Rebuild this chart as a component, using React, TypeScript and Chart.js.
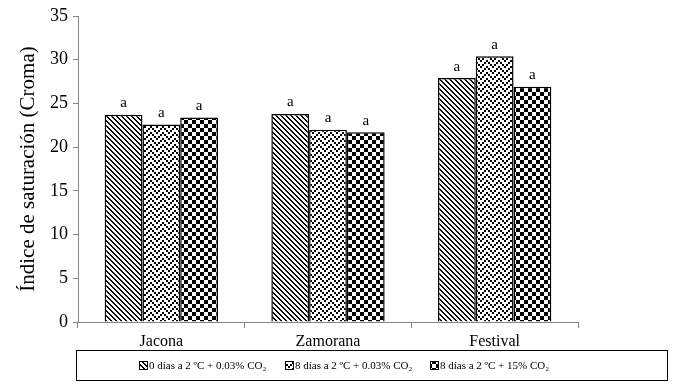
import React, { useEffect, useRef } from "react";
import { Chart, registerables } from "chart.js";

Chart.register(...registerables);

const categories = ["Jacona", "Zamorana", "Festival"];
const seriesLabels = [
  "0 días a 2 ºC + 0.03% CO₂",
  "8 días a 2 ºC + 0.03% CO₂",
  "8 días a 2 ºC + 15% CO₂",
];
const series0 = [23.7, 23.8, 27.9];
const series1 = [22.6, 22.0, 30.4];
const series2 = [23.4, 21.7, 26.9];
const letters0 = ["a", "a", "a"];
const letters1 = ["a", "a", "a"];
const letters2 = ["a", "a", "a"];
const yTitle = "Índice de saturación (Croma)";

const FONT = "'Liberation Serif', 'Times New Roman', serif";

function makePattern(kind: string): CanvasPattern | string {
  const c = document.createElement("canvas");
  let w = 8, h = 8;
  if (kind === "diag") { w = 5; h = 5; }
  if (kind === "zig") { w = 12; h = 6; }
  c.width = w; c.height = h;
  const ctx = c.getContext("2d")!;
  ctx.fillStyle = "#fff";
  ctx.fillRect(0, 0, w, h);
  ctx.fillStyle = "#000";
  if (kind === "diag") {
    for (let y = 0; y < h; y++) for (let x = 0; x < w; x++) {
      if (((x - y) % 5 + 5) % 5 < 2) ctx.fillRect(x, y, 1, 1);
    }
  } else if (kind === "check") {
    for (let y = 0; y < 2; y++) for (let x = 0; x < 2; x++) {
      if ((x + y) % 2 === 0) ctx.fillRect(x * 4, y * 4, 4, 4);
    }
  } else {
    const t = (cc: number) => Math.min(cc, 6 - cc);
    for (let r = 0; r < 3; r++) for (let cc = 0; cc < 6; cc++) {
      if ((r + t(cc)) % 3 === 0) ctx.fillRect(cc * 2, r * 2, 2, 2);
    }
  }
  return ctx.createPattern(c, "repeat") || "#000";
}

export default function App() {
  const ref = useRef<HTMLCanvasElement | null>(null);
  useEffect(() => {
    document.body.style.margin = "0";
    const canvas = ref.current!;
    const patterns = [makePattern("diag"), makePattern("zig"), makePattern("check")];
    const allLetters = [letters0, letters1, letters2];

    const overlay = {
      id: "overlay",
      afterDatasetsDraw(chart: any) {
        const ctx = chart.ctx;
        ctx.save();
        ctx.fillStyle = "#000";
        ctx.font = `15px ${FONT}`;
        ctx.textAlign = "center";
        ctx.textBaseline = "bottom";
        chart.data.datasets.forEach((ds: any, di: number) => {
          const meta = chart.getDatasetMeta(di);
          meta.data.forEach((bar: any, i: number) => {
            ctx.fillText(allLetters[di][i], bar.x, bar.y - 4);
          });
        });
        ctx.restore();
      },
      afterDraw(chart: any) {
        const ctx = chart.ctx;
        ctx.save();
        ctx.strokeStyle = "#000";
        ctx.lineWidth = 1;
        ctx.strokeRect(76.5, 350.5, 591, 30);
        const xs = [139, 285, 430];
        ctx.font = `11px ${FONT}`;
        ctx.textBaseline = "middle";
        ctx.textAlign = "left";
        seriesLabels.forEach((lab, i) => {
          ctx.fillStyle = patterns[i] as any;
          ctx.fillRect(xs[i], 361, 9, 9);
          ctx.strokeStyle = "#000";
          ctx.strokeRect(xs[i] + 0.5, 361.5, 8, 8);
          ctx.fillStyle = "#000";
          ctx.fillText(lab, xs[i] + 10, 366);
        });
        ctx.restore();
      },
    };

    const mk = (label: string, data: number[], i: number) => ({
      label,
      data,
      backgroundColor: patterns[i] as any,
      borderColor: "#000",
      borderWidth: 1.5,
      categoryPercentage: 0.68,
      barPercentage: 1.0,
    });

    const chart = new Chart(canvas, {
      type: "bar",
      data: {
        labels: categories,
        datasets: [
          mk(seriesLabels[0], series0, 0),
          mk(seriesLabels[1], series1, 1),
          mk(seriesLabels[2], series2, 2),
        ],
      },
      options: {
        animation: false,
        responsive: false,
        devicePixelRatio: 1,
        layout: { padding: { top: 16, right: 95, bottom: 34, left: 0 } },
        plugins: { legend: { display: false }, tooltip: { enabled: false } },
        scales: {
          x: {
            grid: { display: true, drawOnChartArea: false, drawTicks: true, tickLength: 6, color: "#868686", offset: true },
            border: { color: "#868686" },
            ticks: { color: "#000", font: { family: FONT, size: 16 }, padding: 4 },
            afterFit: (s: any) => { s.height = 28; },
          },
          y: {
            min: 0,
            max: 35,
            ticks: { stepSize: 5, color: "#000", font: { family: FONT, size: 18 }, padding: 5 },
            grid: { display: true, drawOnChartArea: false, drawTicks: true, tickLength: 5, color: "#868686" },
            border: { color: "#868686" },
            title: { display: true, text: yTitle, color: "#000", font: { family: FONT, size: 21 }, padding: { top: 16, bottom: 0 } },
            afterFit: (s: any) => { s.width = 78; },
          },
        },
      },
      plugins: [overlay],
    });
    return () => chart.destroy();
  }, []);
  return <canvas ref={ref} width={673} height={384} style={{ display: "block" }} />;
}
